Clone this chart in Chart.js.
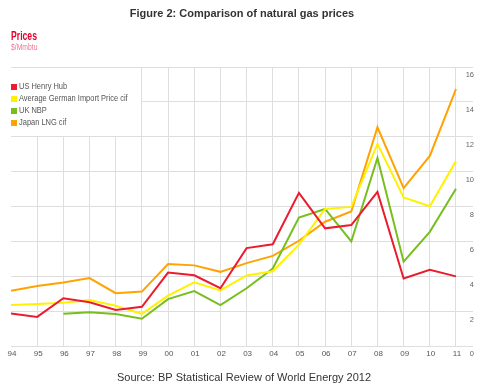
<!DOCTYPE html>
<html>
<head>
<meta charset="utf-8">
<script src="https://cdn.jsdelivr.net/npm/chart.js@4"></script>
<style>
  html, body { margin: 0; padding: 0; background: #fff; }
  #wrap { position: relative; width: 484px; height: 389px; }
</style>
</head>
<body>
<div id="wrap"><canvas id="gasChart" width="484" height="389"></canvas></div>
<script>
// Years on the x axis and the four price series ($/Mmbtu)
const years = [1994, 1995, 1996, 1997, 1998, 1999, 2000, 2001, 2002, 2003, 2004, 2005, 2006, 2007, 2008, 2009, 2010, 2011];
const yearLabels = ["94", "95", "96", "97", "98", "99", "00", "01", "02", "03", "04", "05", "06", "07", "08", "09", "10", "11"];
const henryHub = [1.89, 1.69, 2.76, 2.53, 2.08, 2.27, 4.23, 4.07, 3.33, 5.63, 5.85, 8.79, 6.76, 6.95, 8.85, 3.89, 4.39, 4.01];
const germanImport = [2.37, 2.43, 2.50, 2.66, 2.33, 1.86, 2.91, 3.67, 3.21, 4.06, 4.30, 5.83, 7.87, 7.99, 11.60, 8.53, 8.03, 10.61];
const ukNbp = [null, null, 1.87, 1.96, 1.86, 1.58, 2.71, 3.17, 2.37, 3.33, 4.46, 7.38, 7.87, 6.01, 10.79, 4.85, 6.56, 9.03];
const japanLng = [3.18, 3.46, 3.66, 3.91, 3.05, 3.14, 4.72, 4.64, 4.27, 4.77, 5.18, 6.05, 7.14, 7.73, 12.55, 9.06, 10.91, 14.73];
const yTicks = [0, 2, 4, 6, 8, 10, 12, 14, 16];

const seriesNames = ["US Henry Hub", "Average German Import Price cif", "UK NBP", "Japan LNG cif"];
const seriesColors = ["#ec1c2e", "#fff200", "#77bf1e", "#ffa300"];
const seriesValues = [henryHub, germanImport, ukNbp, japanLng];

const sans = "'Liberation Sans', Arial, sans-serif";

// draw text squeezed horizontally (the original uses a condensed face)
function narrowText(ctx, text, x, y, squeeze) {
    ctx.save();
    ctx.translate(x, y);
    ctx.scale(squeeze, 1);
    ctx.fillText(text, 0, 0);
    ctx.restore();
}

// text + legend drawn on the canvas
const decorPlugin = {
    id: "decor",
    beforeDatasetsDraw(chart) {
        const ctx = chart.ctx;
        const area = chart.chartArea;
        ctx.save();
        // legend sits on a white box over the grid
        ctx.fillStyle = "#fff";
        ctx.fillRect(area.left, area.top + 1, 130, 68);
        ctx.font = "9px " + sans;
        ctx.textBaseline = "middle";
        chart.data.datasets.forEach((ds, i) => {
            const y = 87 + i * 12;
            ctx.fillStyle = ds.borderColor;
            ctx.fillRect(11, y - 3, 6, 6);
            ctx.fillStyle = "#555";
            narrowText(ctx, ds.label, 19, y, 0.83);
        });
        ctx.restore();
    },
    afterDraw(chart) {
        const ctx = chart.ctx;
        ctx.save();
        ctx.textBaseline = "middle";
        ctx.textAlign = "center";
        ctx.fillStyle = "#333";
        ctx.font = "bold 11px " + sans;
        ctx.fillText("Figure 2: Comparison of natural gas prices", 242, 14);
        ctx.font = "11px " + sans;
        ctx.fillText("Source: BP Statistical Review of World Energy 2012", 244, 378);
        ctx.textAlign = "left";
        ctx.fillStyle = "#e8002a";
        ctx.font = "bold 12px " + sans;
        narrowText(ctx, "Prices", 11, 37, 0.72);
        ctx.fillStyle = "#f27590";
        ctx.font = "8.5px " + sans;
        narrowText(ctx, "$/Mmbtu", 11, 48, 0.8);
        ctx.restore();
    }
};

const ctx = document.getElementById("gasChart").getContext("2d");
const gasChart = new Chart(ctx, {
    type: "line",
    data: {
        datasets: seriesNames.map((name, i) => ({
            label: name,
            data: years.map((yr, j) => ({ x: yr, y: seriesValues[i][j] })),
            borderColor: seriesColors[i],
            backgroundColor: seriesColors[i],
            borderWidth: 2,
            pointRadius: 0,
            tension: 0,
            spanGaps: false,
        })),
    },
    options: {
        responsive: false,
        animation: false,
        devicePixelRatio: 1,
        layout: { padding: { top: 67, right: 9, bottom: 27, left: 11 } },
        plugins: {
            legend: { display: false },
            title: { display: false },
            tooltip: { enabled: false },
        },
        scales: {
            x: {
                type: "linear",
                min: years[0],
                max: 2011.65,
                grid: {
                    drawTicks: false,
                    color: (c) => (c.tick && c.tick.value === years[0] ? "rgba(0,0,0,0)" : "#dedede"),
                },
                border: { display: false },
                ticks: {
                    stepSize: 1,
                    includeBounds: false,
                    autoSkip: false,
                    maxRotation: 0,
                    padding: 3,
                    labelOffset: 1,
                    color: "#555",
                    font: { size: 8, family: sans },
                    callback: (v) => yearLabels[years.indexOf(v)],
                },
            },
            y: {
                position: "right",
                min: yTicks[0],
                max: yTicks[yTicks.length - 1],
                afterBuildTicks: (axis) => { axis.ticks = yTicks.map((v) => ({ value: v })); },
                grid: { drawTicks: false, color: "#dedede" },
                border: { display: false },
                ticks: {
                    mirror: true,
                    padding: 1,
                    labelOffset: 8,
                    color: "#666",
                    font: { size: 7.5, family: sans },
                },
            },
        },
    },
    plugins: [decorPlugin],
});
</script>
</body>
</html>
